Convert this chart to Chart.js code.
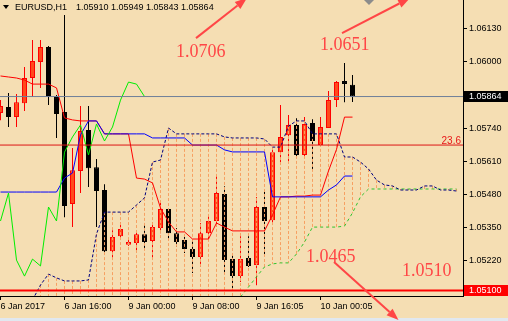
<!DOCTYPE html>
<html>
<head>
<meta charset="utf-8">
<script src="https://cdn.jsdelivr.net/npm/chart.js@4.4.1/dist/chart.umd.min.js"></script>
<style>
  html, body { margin: 0; padding: 0; background: #f5deb3; overflow: hidden; }
  #wrap { width: 508px; height: 321px; }
</style>
</head>
<body>
<div id="wrap"><canvas id="chart" width="508" height="321"></canvas></div>
<script>
// EURUSD H1, 6 Jan 2017 08:00 .. 10 Jan 04:00 (one entry per bar)
const symbol = "EURUSD,H1";
const opens = [1.05799, 1.05823, 1.05783, 1.05838, 1.05937, 1.06000, 1.06059, 1.05862, 1.05803, 1.05441,
  1.05571, 1.05732, 1.05586, 1.05496, 1.05255, 1.05314, 1.05280, 1.05287, 1.05322, 1.05295,
  1.05346, 1.05421, 1.05326, 1.05299, 1.05264, 1.05232, 1.05326, 1.05374, 1.05480, 1.05224,
  1.05157, 1.05228, 1.05201, 1.05429, 1.05377, 1.05645, 1.05712, 1.05752, 1.05634, 1.05760,
  1.05673, 1.05740, 1.05850, 1.05925, 1.05910];
const highs = [1.05850, 1.05878, 1.05874, 1.05980, 1.06087, 1.06087, 1.06063, 1.05870, 1.06185, 1.05661,
  1.05827, 1.05827, 1.05618, 1.05519, 1.05338, 1.05370, 1.05299, 1.05338, 1.05358, 1.05370,
  1.05445, 1.05425, 1.05346, 1.05311, 1.05303, 1.05366, 1.05397, 1.05559, 1.05511, 1.05240,
  1.05314, 1.05314, 1.05468, 1.05488, 1.05661, 1.05831, 1.05791, 1.05779, 1.05783, 1.05775,
  1.05783, 1.05886, 1.05925, 1.05996, 1.05949];
const lows = [1.05771, 1.05744, 1.05744, 1.05807, 1.05862, 1.05898, 1.05831, 1.05701, 1.05389, 1.05350,
  1.05484, 1.05508, 1.05350, 1.05251, 1.05220, 1.05299, 1.05276, 1.05260, 1.05260, 1.05220,
  1.05326, 1.05299, 1.05272, 1.05248, 1.05169, 1.05193, 1.05299, 1.05350, 1.05169, 1.05106,
  1.05134, 1.05193, 1.05121, 1.05240, 1.05358, 1.05606, 1.05606, 1.05626, 1.05626, 1.05574,
  1.05669, 1.05740, 1.05823, 1.05842, 1.05843];
const closes = [1.05827, 1.05783, 1.05842, 1.05937, 1.06004, 1.06059, 1.05862, 1.05795, 1.05433, 1.05574,
  1.05728, 1.05582, 1.05492, 1.05255, 1.05311, 1.05342, 1.05291, 1.05322, 1.05291, 1.05350,
  1.05421, 1.05326, 1.05291, 1.05264, 1.05232, 1.05326, 1.05374, 1.05484, 1.05220, 1.05157,
  1.05224, 1.05197, 1.05429, 1.05374, 1.05645, 1.05705, 1.05752, 1.05634, 1.05756, 1.05689,
  1.05744, 1.05850, 1.05921, 1.05913, 1.05864];

// Ichimoku lines
const tenkan = [1.05945, 1.05941, 1.05937, 1.05929, 1.05913, 1.05913, 1.05913, 1.05898, 1.05780, 1.05772,
  1.05768, 1.05768, 1.05768, 1.05717, 1.05717, 1.05717, 1.05717, 1.05543, 1.05539, 1.05524,
  1.05425, 1.05370, 1.05331, 1.05331, 1.05303, 1.05303, 1.05303, 1.05366, 1.05350, 1.05335,
  1.05335, 1.05335, 1.05335, 1.05335, 1.05398, 1.05469, 1.05469, 1.05472, 1.05472, 1.05476,
  1.05476, 1.05571, 1.05656, 1.05783, 1.05783];
const kijun = [1.05488, 1.05488, 1.05488, 1.05488, 1.05488, 1.05488, 1.05488, 1.05488, 1.05543, 1.05563,
  1.05713, 1.05768, 1.05768, 1.05717, 1.05717, 1.05717, 1.05717, 1.05717, 1.05717, 1.05701,
  1.05701, 1.05701, 1.05701, 1.05701, 1.05673, 1.05673, 1.05673, 1.05673, 1.05654, 1.05646,
  1.05646, 1.05646, 1.05646, 1.05646, 1.05469, 1.05469, 1.05469, 1.05469, 1.05469, 1.05469,
  1.05469, 1.05496, 1.05516, 1.05551, 1.05551];
const chikou = [1.05374, 1.05484, 1.05220, 1.05157, 1.05224, 1.05197, 1.05429, 1.05374, 1.05645, 1.05705,
  1.05752, 1.05634, 1.05756, 1.05689, 1.05744, 1.05850, 1.05921, 1.05913, 1.05864];
const spanA = [null, null, null, null, 1.05063, 1.05122, 1.05165, 1.05150, 1.05138, 1.05138,
  1.05138, 1.05142, 1.05323, 1.05409, 1.05409, 1.05409, 1.05409, 1.05437, 1.05465, 1.05606,
  1.05614, 1.05740, 1.05717, 1.05717, 1.05717, 1.05717, 1.05717, 1.05717, 1.05705, 1.05701,
  1.05701, 1.05701, 1.05701, 1.05697, 1.05665, 1.05665, 1.05748, 1.05768, 1.05768, 1.05717,
  1.05717, 1.05717, 1.05717, 1.05626, 1.05626, 1.05606, 1.05579, 1.05535, 1.05516, 1.05512,
  1.05496, 1.05496, 1.05496, 1.05512, 1.05512, 1.05496, 1.05496, 1.05492];
const spanB = [null, null, null, null, null, null, null, null, null, null,
  null, null, null, null, null, null, null, null, null, null,
  null, null, null, null, null, null, null, null, null, null,
  1.05075, 1.05114, 1.05154, 1.05193, 1.05205, 1.05209, 1.05209, 1.05244, 1.05291, 1.05350,
  1.05350, 1.05350, 1.05350, 1.05354, 1.05406, 1.05469, 1.05500, 1.05500, 1.05500, 1.05500,
  1.05500, 1.05500, 1.05500, 1.05500, 1.05500, 1.05500, 1.05500, 1.05500];

// horizontal levels
const bidLevel = 1.05864;
const fiboLevel = 1.05673;
const supportLevel = 1.05100;

// axes
const yTicks = [1.06130, 1.06000, 1.05870, 1.05740, 1.05610, 1.05480, 1.05350, 1.05220, 1.05090];
const xTickIdx = [0, 8, 16, 24, 32, 40];
const xLabels = ["6 Jan 2017", "6 Jan 16:00", "9 Jan 00:00", "9 Jan 08:00", "9 Jan 16:05", "10 Jan 00:05"];

const X_MIN = -0.0625, X_MAX = 57.8125;
const Y_MIN = 1.050787, Y_MAX = 1.062441;

const BULL_BODY = "#ff4a1c", BULL_EDGE = "#ff0000", BEAR = "#000000";
const NOTE_RED = "#ff4646";

// text objects placed on the chart (bar index, price)
const notes = [
  { text: "1.0706", at: [21.94, 1.06020], arrow: [[24.44, 1.06094], [30.81, 1.06252]] },
  { text: "1.0651", at: [39.94, 1.06047], arrow: [[42.69, 1.06114], [51.19, 1.06252]] },
  { text: "1.0465", at: [38.19, 1.05213], arrow: [[41.69, 1.05213], [49.75, 1.04984]] },
  { text: "1.0510", at: [50.19, 1.05157] }
];
const diamond = [46.06, 1.06244];

const bull = i => closes[i] >= opens[i];
const pts = arr => arr.map((v, i) => (v === null ? null : { x: i, y: v })).filter(p => p);
const level = v => [{ x: X_MIN, y: v }, { x: X_MAX, y: v }];

function arrowLine(ctx, x0, y0, x1, y1) {
  const ang = Math.atan2(y1 - y0, x1 - x0);
  const len = 12, half = 4.5;
  const bx = x1 - Math.cos(ang) * len, by = y1 - Math.sin(ang) * len;
  ctx.beginPath();
  ctx.moveTo(x0, y0);
  ctx.lineTo(bx, by);
  ctx.stroke();
  ctx.beginPath();
  ctx.moveTo(x1, y1);
  ctx.lineTo(bx - Math.sin(ang) * half, by + Math.cos(ang) * half);
  ctx.lineTo(bx + Math.sin(ang) * half, by - Math.cos(ang) * half);
  ctx.closePath();
  ctx.fill();
}

const overlay = {
  id: "overlay",
  beforeDraw(chart) {
    const ctx = chart.ctx;
    ctx.save();
    ctx.fillStyle = "#f5deb3";
    ctx.fillRect(0, 0, chart.width, chart.height);
    ctx.fillStyle = "#e1e8f0";
    ctx.fillRect(0, chart.height - 3, chart.width, 3);
    ctx.restore();
  },
  afterDatasetDraw(chart, args) {
    // cloud hatching, drawn over the candles
    if (chart.data.datasets[args.index].label !== "bodies") return;
    const { ctx, chartArea: a, scales: { x, y } } = chart;
    ctx.save();
    ctx.beginPath();
    ctx.rect(a.left, a.top, a.right - a.left, a.bottom - a.top);
    ctx.clip();
    ctx.strokeStyle = "#f7a062";
    ctx.lineWidth = 1;
    ctx.setLineDash([3, 2]);
    spanA.forEach((v, i) => {
      if (v === null) return;
      const px = x.getPixelForValue(i);
      const bottom = spanB[i] === null ? y.min : spanB[i];
      ctx.beginPath();
      ctx.moveTo(px, y.getPixelForValue(v));
      ctx.lineTo(px, y.getPixelForValue(bottom));
      ctx.stroke();
    });
    ctx.restore();
  },
  afterDraw(chart) {
    const { ctx, chartArea: a, scales: { x, y } } = chart;
    ctx.save();

    // header
    ctx.fillStyle = "#000";
    ctx.beginPath();
    ctx.moveTo(3, 5); ctx.lineTo(9, 5); ctx.lineTo(6, 9); ctx.closePath();
    ctx.fill();
    ctx.font = '9px "Liberation Sans"';
    ctx.textBaseline = "middle";
    ctx.textAlign = "left";
    const last = closes.length - 1;
    ctx.fillText(symbol, 15, 7.5);
    ctx.fillText([opens[last], highs[last], lows[last], closes[last]].map(v => v.toFixed(5)).join(" "), 76, 7.5);

    // fibo label
    const fy = y.getPixelForValue(fiboLevel);
    ctx.fillStyle = "#e81818";
    ctx.font = '10px "Liberation Sans"';
    ctx.textAlign = "right";
    ctx.textBaseline = "alphabetic";
    ctx.fillText("23.6", a.right - 2, fy - 1.5);

    // price boxes on the axis
    const box = (v, bg) => {
      const py = y.getPixelForValue(v);
      const top = Math.round(py - 5.5);
      ctx.fillStyle = bg;
      ctx.fillRect(a.right + 1, top, chart.width - a.right - 1, 11);
      ctx.fillStyle = "#fff";
      ctx.font = '9px "Liberation Sans"';
      ctx.textAlign = "left";
      ctx.textBaseline = "middle";
      ctx.fillText(v.toFixed(5), a.right + 6, top + 5.5);
    };
    box(bidLevel, "#000");
    box(supportLevel, "#ff0000");

    // notes and arrows
    ctx.fillStyle = NOTE_RED;
    ctx.strokeStyle = NOTE_RED;
    ctx.lineWidth = 2;
    ctx.font = '18px "Liberation Serif"';
    ctx.textAlign = "left";
    ctx.textBaseline = "alphabetic";
    notes.forEach(n => {
      ctx.fillText(n.text, x.getPixelForValue(n.at[0]), y.getPixelForValue(n.at[1]));
      if (n.arrow) {
        const [p0, p1] = n.arrow;
        arrowLine(ctx, x.getPixelForValue(p0[0]), y.getPixelForValue(p0[1]),
          x.getPixelForValue(p1[0]), y.getPixelForValue(p1[1]));
      }
    });

    // grey diamond at the top edge
    const dx = x.getPixelForValue(diamond[0]), dy = y.getPixelForValue(diamond[1]);
    ctx.fillStyle = "#8c8c8c";
    ctx.beginPath();
    ctx.moveTo(dx - 5, dy); ctx.lineTo(dx, dy - 5); ctx.lineTo(dx + 5, dy); ctx.lineTo(dx, dy + 5);
    ctx.closePath();
    ctx.fill();
    ctx.restore();
  }
};

const lineSet = (label, arr, color, order, dash) => ({
  type: "line",
  label,
  data: pts(arr),
  borderColor: color,
  borderWidth: 1,
  borderDash: dash || [],
  pointRadius: 0,
  tension: 0,
  fill: false,
  order
});

new Chart(document.getElementById("chart"), {
  type: "bar",
  data: {
    datasets: [
      {
        label: "bodies",
        data: opens.map((o, i) => ({ x: i, y: [o, closes[i]] })),
        backgroundColor: opens.map((o, i) => (bull(i) ? BULL_BODY : BEAR)),
        borderColor: opens.map((o, i) => (bull(i) ? BULL_EDGE : BEAR)),
        borderWidth: 1,
        borderSkipped: false,
        barThickness: 5,
        grouped: false,
        inflateAmount: 0,
        order: 9
      },
      {
        label: "wicks",
        data: lows.map((l, i) => ({ x: i, y: [l, highs[i]] })),
        backgroundColor: lows.map((l, i) => (bull(i) ? BULL_EDGE : BEAR)),
        borderWidth: 0,
        barThickness: 1,
        grouped: false,
        inflateAmount: 0,
        order: 10
      },
      lineSet("spanA", spanA, "#00007f", 6, [3, 2]),
      lineSet("spanB", spanB, "#2fc42f", 6, [3, 3]),
      lineSet("tenkan", tenkan, "#ff0000", 5),
      lineSet("kijun", kijun, "#0000ff", 4),
      lineSet("chikou", chikou, "#00ee00", 3),
      { type: "line", label: "bid", data: level(bidLevel), borderColor: "#6f7f99", borderWidth: 1, pointRadius: 0, order: 2 },
      { type: "line", label: "fibo", data: level(fiboLevel), borderColor: "#dc1414", borderWidth: 1, pointRadius: 0, order: 2 },
      { type: "line", label: "support", data: level(supportLevel), borderColor: "#ff0000", borderWidth: 2, pointRadius: 0, order: 1 }
    ]
  },
  options: {
    responsive: false,
    devicePixelRatio: 1,
    animation: false,
    layout: { padding: 0 },
    plugins: { legend: { display: false }, tooltip: { enabled: false } },
    scales: {
      x: {
        type: "linear",
        min: X_MIN,
        max: X_MAX,
        offset: false,
        grid: { drawOnChartArea: false, drawTicks: true, tickLength: 4, tickColor: "#000", offset: false },
        border: { display: true, color: "#000" },
        ticks: {
          autoSkip: false,
          maxRotation: 0,
          align: "start",
          padding: 1,
          color: "#000",
          font: { family: "Liberation Sans", size: 9 },
          callback: (v, i) => xLabels[i]
        },
        afterBuildTicks: s => { s.ticks = xTickIdx.map(v => ({ value: v })); },
        afterFit: s => { s.height = 25; s.paddingLeft = 0; s.paddingRight = 0; }
      },
      y: {
        type: "linear",
        position: "right",
        min: Y_MIN,
        max: Y_MAX,
        grid: { drawOnChartArea: false, drawTicks: true, tickLength: 4, tickColor: "#000" },
        border: { display: true, color: "#000" },
        ticks: {
          padding: 2,
          color: "#000",
          font: { family: "Liberation Sans", size: 9 },
          callback: v => v.toFixed(5)
        },
        afterBuildTicks: s => { s.ticks = yTicks.map(v => ({ value: v })); },
        afterFit: s => { s.width = 45; s.paddingTop = 0; s.paddingBottom = 0; }
      }
    }
  },
  plugins: [overlay]
});
</script>
</body>
</html>
